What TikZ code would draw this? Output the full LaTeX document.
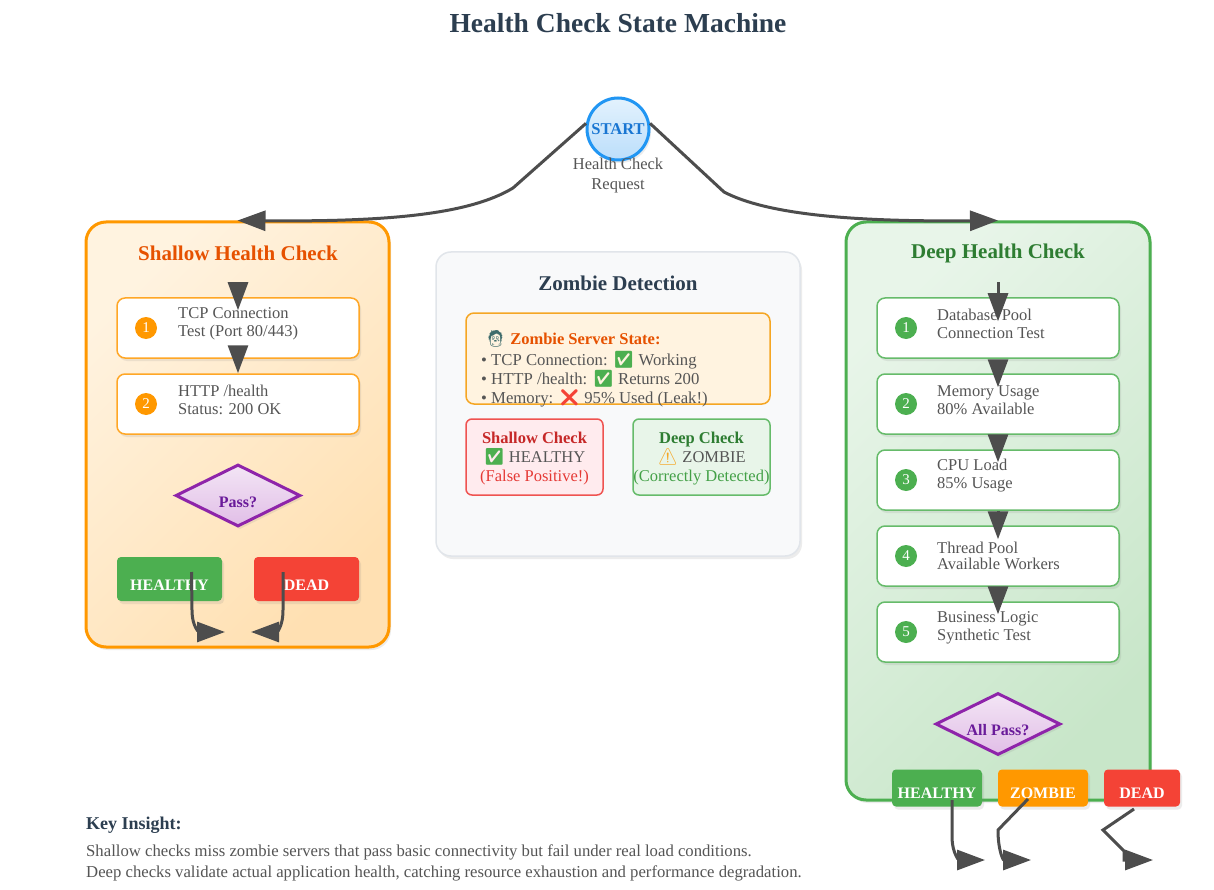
\documentclass[tikz,border=0pt]{standalone}
\usepackage{fontspec}
\setmainfont{Liberation Serif}
\newfontfamily\emoji{Noto Emoji}
\usetikzlibrary{arrows.meta,shapes.geometric,shadows,positioning}

\newcommand\fsz[2]{\fontsize{#1}{#2}\selectfont}

\definecolor{navy}{HTML}{2C3E50}
\definecolor{txtgray}{HTML}{555555}
\definecolor{linegray}{HTML}{4D4D4D}
\definecolor{orangeline}{HTML}{FFA726}
\definecolor{orangedark}{HTML}{E65100}
\definecolor{orangefill}{HTML}{FF9800}
\definecolor{greenline}{HTML}{4CAF50}
\definecolor{greenstep}{HTML}{66BB6A}
\definecolor{greendark}{HTML}{2E7D32}
\definecolor{greentext}{HTML}{43A047}
\definecolor{redfill}{HTML}{F44336}
\definecolor{redline}{HTML}{EF5350}
\definecolor{reddark}{HTML}{C62828}
\definecolor{redtext}{HTML}{E53935}
\definecolor{purpleline}{HTML}{8E24AA}
\definecolor{purpledark}{HTML}{6A1B9A}
\definecolor{blueline}{HTML}{2196F3}
\definecolor{bluedark}{HTML}{1976D2}
\definecolor{warnyellow}{HTML}{F5A623}
\definecolor{zombieteal}{HTML}{3E6B6B}
\definecolor{shtop}{HTML}{FFF3E0}
\definecolor{shbot}{HTML}{FFE0B2}
\definecolor{dptop}{HTML}{E8F5E9}
\definecolor{dpbot}{HTML}{C8E6C9}
\definecolor{dmtop}{HTML}{F3E5F5}
\definecolor{dmbot}{HTML}{E1BEE7}
\definecolor{sttop}{HTML}{E3F2FD}
\definecolor{stbot}{HTML}{BBDEFB}
\definecolor{zbfill}{HTML}{F8F9FA}
\definecolor{zbline}{HTML}{E1E5EA}
\definecolor{shallowfill}{HTML}{FFEBEE}

\tikzset{
  flow/.style={draw=linegray, line width=3pt, -{Triangle[length=28pt,width=20pt]}},
  soft/.style={drop shadow={shadow xshift=2pt, shadow yshift=-3pt, opacity=0.15}},
  low/.style={text height=#1, text depth=0pt},
  panel/.style={rectangle, rounded corners=20pt, line width=3pt, minimum width=303pt, minimum height=425pt, soft},
  stepbox/.style={rectangle, rounded corners=8pt, fill=white, line width=1.5pt, minimum width=242pt, minimum height=60pt, soft},
  num/.style={circle, text=white, minimum size=22pt, inner sep=0pt, font=\fsz{15}{15}},
  steptext/.style={anchor=west, align=left, inner sep=0pt, text=txtgray, font=\fsz{16.5}{18}},
  decide/.style={diamond, aspect=2, draw=purpleline, line width=3pt, top color=dmtop, bottom color=dmbot, minimum width=125pt, minimum height=62pt, inner sep=0pt, low=23pt, text=purpledark, font=\bfseries\fsz{16}{16}, soft},
  verdict/.style={rectangle, rounded corners=4pt, text=white, font=\bfseries\fsz{16}{16}, minimum width=105pt, minimum height=44pt, low=23pt, soft},
  ptitle/.style={font=\bfseries\fsz{21}{24}},
  checkbox/.style={rectangle, rounded corners=6pt, line width=1.5pt, minimum width=137pt, minimum height=76pt},
}

\begin{document}
\begin{tikzpicture}[x=1pt, y=-1pt]
			\useasboundingbox (0,0) rectangle (1214,890);
			\fill[white] (0,0) rectangle (1214,890);
			
			\node[font=\bfseries\fsz{27.5}{30}, text=navy] (title) at (618,23) {Health Check State Machine};
			
			\node[circle, draw=blueline, line width=3pt, top color=sttop, bottom color=stbot, minimum size=62pt, inner sep=0pt, text=bluedark, font=\bfseries\fsz{16.5}{16.5}, soft] (start) at (618,129) {START};
			\node[below=-4pt of start, align=center, inner sep=0pt, text=txtgray, font=\fsz{16.5}{20}] (request) {Health Check\\Request};
			
			% the three columns
			\node[panel, draw=orangefill, top color=shtop, bottom color=shbot, shading angle=45] (shallow) at (237.5,434.5) {};
			\node[panel, draw=greenline, top color=dptop, bottom color=dpbot, shading angle=45, minimum width=304pt, minimum height=578pt] (deep) at (998,511) {};
			\node[rectangle, rounded corners=15pt, fill=zbfill, draw=zbline, line width=1.5pt, minimum width=364pt, minimum height=304pt, soft] (zombie) at (618,404) {};
			
			\node[ptitle, text=orangedark] (shallowtitle) at (238,253) {Shallow Health Check};
			\node[ptitle, text=greendark] (deeptitle) at (998,253) {Deep Health Check};
			\node[ptitle, text=navy] (zombietitle) at (618,283) {Zombie Detection};
			
			% shallow steps
			\node[stepbox, draw=orangeline] (S1) at (238,328) {};
			\node[stepbox, draw=orangeline] (S2) at (238,404) {};
			\node[num, fill=orangefill] (S1n) at (146,328) {1};
			\node[num, fill=orangefill] (S2n) at (146,404) {2};
			\node[steptext] (S1t) at (178,324) {TCP Connection\\Test (Port 80/443)};
			\node[steptext] (S2t) at (178,400) {HTTP /health\\Status: 200 OK};
			
			\node[decide] (P1) at (238,495.5) {Pass?};
			\node[verdict, fill=greenline] (H1) at (169.5,579) {HEALTHY};
			\node[verdict, fill=redfill] (X1) at (306.5,579) {DEAD};
			
			% deep steps
			\node[stepbox, draw=greenstep] (D1) at (998,328) {};
			\node[stepbox, draw=greenstep] (D2) at (998,404) {};
			\node[stepbox, draw=greenstep] (D3) at (998,480) {};
			\node[stepbox, draw=greenstep] (D4) at (998,556) {};
			\node[stepbox, draw=greenstep] (D5) at (998,632) {};
			\node[num, fill=greenline] (D1n) at (906,328) {1};
			\node[num, fill=greenline] (D2n) at (906,404) {2};
			\node[num, fill=greenline] (D3n) at (906,480) {3};
			\node[num, fill=greenline] (D4n) at (906,556) {4};
			\node[num, fill=greenline] (D5n) at (906,632) {5};
			\node[steptext] (D1t) at (937,324) {Database Pool\\Connection Test};
			\node[steptext] (D2t) at (937,400) {Memory Usage\\80\% Available};
			\node[steptext] (D3t) at (937,476) {CPU Load\\85\% Usage};
			\node[steptext, font=\fsz{16.5}{15.5}] (D4t) at (937,556) {Thread Pool\\Available Workers};
			\node[steptext] (D5t) at (937,628) {Business Logic\\Synthetic Test};
			
			\node[decide] (P2) at (998,724) {All Pass?};
			\node[verdict, fill=greenline, minimum width=90pt, minimum height=37pt, low=21pt] (H2) at (937,788) {HEALTHY};
			\node[verdict, fill=orangefill, minimum width=90pt, minimum height=37pt, low=21pt] (Z2) at (1043,788) {ZOMBIE};
			\node[verdict, fill=redfill, minimum width=76pt, minimum height=37pt, low=21pt] (X2) at (1142,788) {DEAD};
			
			% zombie detection
			\node[rectangle, rounded corners=8pt, fill=shtop, draw=warnyellow, line width=1.5pt, minimum width=304pt, minimum height=91pt] (state) at (618,358.5) {};
			\node[anchor=west, inner sep=0pt, font=\bfseries\fsz{16.5}{18}, text=orangedark] (statehead) at (485,339) {{\emoji\color{zombieteal}🧟}\ Zombie Server State:};
			\node[anchor=west, inner sep=0pt, align=left, text=txtgray, font=\fsz{16.7}{19}] (statelist) at (481,379.5) {• TCP Connection: {\emoji\color{greenline}✅}\ Working\\• HTTP /health: {\emoji\color{greenline}✅}\ Returns 200\\• Memory: {\emoji\color{redfill}❌}\ 95\% Used (Leak!)};
			
			\node[checkbox, fill=shallowfill, draw=redline] (shcheck) at (534.5,457) {};
			\node[checkbox, fill=dptop, draw=greenstep] (dpcheck) at (701.5,457) {};
			\node[align=center, inner sep=0pt, text=txtgray, font=\fsz{16.5}{19}] (shtext) at (534.5,458.5) {{\bfseries\color{reddark}Shallow Check}\\{\emoji\color{greenline}✅}\ HEALTHY\\{\color{redtext}(False Positive!)}};
			\node[align=center, inner sep=0pt, text=txtgray, font=\fsz{16.5}{19}] (dptext) at (701.5,458.5) {{\bfseries\color{greendark}Deep Check}\\{\emoji\color{warnyellow}⚠}\ ZOMBIE\\{\color{greentext}(Correctly Detected)}};
			
			% key insight
			\node[anchor=west, inner sep=0pt, font=\bfseries\fsz{18}{20}, text=navy] (key) at (86,825) {Key Insight:};
			\node[anchor=west, inner sep=0pt, align=left, text=txtgray, font=\fsz{16.7}{21}] (keytext) at (86,862.5) {Shallow checks miss zombie servers that pass basic connectivity but fail under real load conditions.\\Deep checks validate actual application health, catching resource exhaustion and performance degradation.};
			
			% connectors
			\coordinate (h1end) at (225,632);
			\coordinate (x1end) at (251,632);
			\coordinate (h2end) at (985,860);
			\coordinate (z2end) at (1031,860);
			\coordinate (x2end) at (1153,860);
			
			\draw[flow] (start.170) -- (513,188) .. controls (470,214) and (390,222) .. (shallow.north);
			\draw[flow] (start.10) -- (724,192) .. controls (766,214) and (850,222) .. (deep.north);
			
			\draw[flow] ([yshift=15pt]S1.north) -- ([yshift=-13pt]S1.north);
			\draw[flow] ([yshift=11pt]S1.south) -- (S2.north);
			
			\draw[flow] ([yshift=15pt]D1.north) -- ([yshift=-24pt]D1.north);
			\draw[flow] ([yshift=-2pt]D1.south) -- ([yshift=-14pt]D2.north);
			\draw[flow] (D2.south) -- ([yshift=-13pt]D3.north);
			\draw[flow] (D3.south) -- ([yshift=-14pt]D4.north);
			\draw[flow] (D4.south) -- ([yshift=-13pt]D5.north);
			
			\draw[flow] ([xshift=22pt,yshift=7pt]H1.center) -- (192,610) .. controls (192,628) and (200,632) .. (h1end);
			\draw[flow] ([xshift=-23.5pt,yshift=7pt]X1.center) -- (283,610) .. controls (283,628) and (276,632) .. (x1end);
			
			\draw[flow] ([xshift=15pt,yshift=-12pt]H2.center) -- (952,836) .. controls (952,855) and (960,860) .. (h2end);
			\draw[flow] ([xshift=-15pt,yshift=-11pt]Z2.center) -- (998,830) .. controls (998,850) and (1003,860) .. (z2end);
			\draw[flow] ([xshift=-8pt,yshift=-21pt]X2.center) -- (1103,830) -- (1124,851) -- (1124,860) -- (x2end);
		\end{tikzpicture}
\end{document}
